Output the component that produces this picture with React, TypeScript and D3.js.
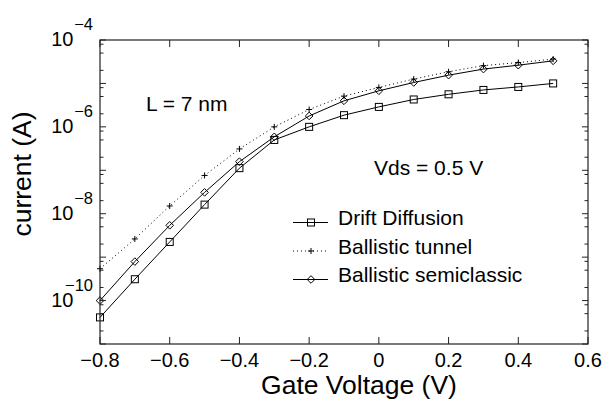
import React from 'react'
import * as d3 from 'd3'

const gateVoltage = [-0.8, -0.7, -0.6, -0.5, -0.4, -0.3, -0.2, -0.1, 0, 0.1, 0.2, 0.3, 0.4, 0.5]
const driftDiffusion = [4.1e-11, 3.1e-10, 2.24e-9, 1.62e-8, 1.12e-7, 5.0e-7, 1.0e-6, 1.86e-6, 2.88e-6, 4.27e-6, 5.62e-6, 7.08e-6, 8.3e-6, 1.0e-5]
const ballisticTunnel = [5.4e-10, 2.63e-9, 1.51e-8, 7.6e-8, 3.1e-7, 1.0e-6, 2.51e-6, 5.1e-6, 8.1e-6, 1.26e-5, 1.86e-5, 2.57e-5, 3.02e-5, 3.63e-5]
const ballisticSemiclassic = [1.0e-10, 7.9e-10, 5.4e-9, 3.1e-8, 1.58e-7, 5.9e-7, 1.78e-6, 3.98e-6, 6.76e-6, 1.05e-5, 1.55e-5, 2.14e-5, 2.63e-5, 3.31e-5]

const xTicks = [-0.8, -0.6, -0.4, -0.2, 0, 0.2, 0.4, 0.6]
const xTickLabels = ['−0.8', '−0.6', '−0.4', '−0.2', '0', '0.2', '0.4', '0.6']
const yLabelExponents = [-4, -6, -8, -10]
const legendLabels = ['Drift Diffusion', 'Ballistic tunnel', 'Ballistic semiclassic']

const width = 603
const height = 403
const margin = { top: 40, right: 15, bottom: 59, left: 100 }
const font = 'Liberation Sans, Arial, sans-serif'

const x = d3.scaleLinear().domain([-0.8, 0.6]).range([margin.left, width - margin.right])
const y = d3.scaleLog().domain([1e-11, 1e-4]).range([height - margin.bottom, margin.top])

// decade ticks plus the few minor ticks visible on the original
const majorY = d3.range(-11, -3).map(e => Math.pow(10, e))
const minorY: number[] = []
d3.range(-11, -4).forEach(e => [2, 5, 8].forEach(m => minorY.push(m * Math.pow(10, e))))

const Marker = ({ kind, cx, cy }: { kind: string; cx: number; cy: number }) => {
  if (kind === 'square') return <rect x={cx - 3.5} y={cy - 3.5} width={7} height={7} fill="none" stroke="#000" strokeWidth={1} />
  if (kind === 'plus') return <path d={`M${cx - 3},${cy}H${cx + 3}M${cx},${cy - 3}V${cy + 3}`} stroke="#000" strokeWidth={1} />
  return <path d={`M${cx},${cy - 3.8}L${cx + 3.8},${cy}L${cx},${cy + 3.8}L${cx - 3.8},${cy}Z`} fill="none" stroke="#000" strokeWidth={1} />
}

const series = [
  { values: driftDiffusion, marker: 'square', dash: undefined },
  { values: ballisticTunnel, marker: 'plus', dash: '1 3' },
  { values: ballisticSemiclassic, marker: 'diamond', dash: undefined },
]

export default function App() {
  const x0 = margin.left
  const x1 = width - margin.right
  const y0 = height - margin.bottom
  const y1 = margin.top
  const lineGen = d3.line<number>().x((_, i) => x(gateVoltage[i])).y(d => y(d))

  return (
    <>
      <style>{`body{margin:0}`}</style>
      <svg width={width} height={height} style={{ display: 'block', background: '#fff' }} fontFamily={font}>
        {/* series */}
        {series.map((s, si) => (
          <g key={si}>
            <path d={lineGen(s.values) || ''} fill="none" stroke="#000" strokeWidth={1} strokeDasharray={s.dash} />
            {s.values.map((v, i) => <Marker key={i} kind={s.marker} cx={x(gateVoltage[i])} cy={y(v)} />)}
          </g>
        ))}

        {/* frame */}
        <rect x={x0} y={y1} width={x1 - x0} height={y0 - y1} fill="none" stroke="#222" strokeWidth={1.2} />

        {/* x ticks */}
        {xTicks.map((t, i) => (
          <g key={i}>
            <line x1={x(t)} x2={x(t)} y1={y0} y2={y0 - 7} stroke="#222" />
            <line x1={x(t)} x2={x(t)} y1={y1} y2={y1 + 7} stroke="#222" />
            <text x={x(t)} y={367} textAnchor="middle" fontSize={20}>{xTickLabels[i]}</text>
          </g>
        ))}

        {/* y ticks */}
        {majorY.map((t, i) => (
          <g key={'M' + i}>
            <line x1={x0} x2={x0 + 6} y1={y(t)} y2={y(t)} stroke="#222" />
            <line x1={x1} x2={x1 - 6} y1={y(t)} y2={y(t)} stroke="#222" />
          </g>
        ))}
        {minorY.map((t, i) => (
          <g key={'m' + i}>
            <line x1={x0} x2={x0 + 3.5} y1={y(t)} y2={y(t)} stroke="#222" />
            <line x1={x1} x2={x1 - 3.5} y1={y(t)} y2={y(t)} stroke="#222" />
          </g>
        ))}
        {yLabelExponents.map(e => {
          const ty = y(Math.pow(10, e))
          return (
            <g key={e}>
              <text x={73.5} y={ty + 6} textAnchor="end" fontSize={20}>10</text>
              <text x={93} y={ty - 10} textAnchor="end" fontSize={16.5}>{'−' + Math.abs(e)}</text>
            </g>
          )
        })}

        {/* axis titles */}
        <text x={359} y={394} textAnchor="middle" fontSize={26.5}>Gate Voltage (V)</text>
        <text transform={`translate(31,174) rotate(-90)`} textAnchor="middle" fontSize={26.5}>current (A)</text>

        {/* annotations */}
        <text x={146} y={111} fontSize={21}>L = 7 nm</text>
        <text x={374} y={175} fontSize={21}>Vds = 0.5 V</text>

        {/* legend */}
        {legendLabels.map((lab, i) => {
          const by = 225 + i * 28.5
          const ly = by - 2.5
          return (
            <g key={lab}>
              <line x1={293} x2={328} y1={ly} y2={ly} stroke="#000" strokeDasharray={series[i].dash} />
              <Marker kind={series[i].marker} cx={311} cy={ly} />
              <text x={338} y={by} fontSize={21}>{lab}</text>
            </g>
          )
        })}
      </svg>
    </>
  )
}
